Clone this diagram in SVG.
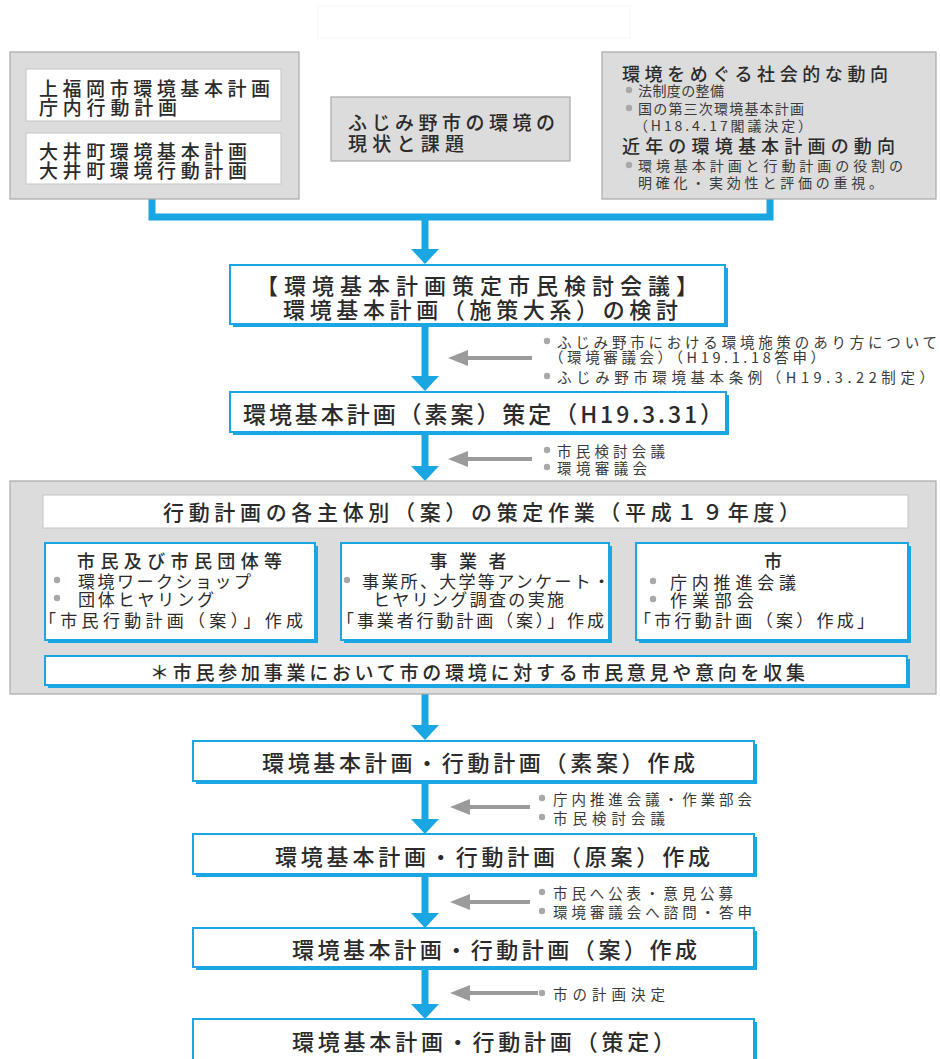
<svg xmlns="http://www.w3.org/2000/svg" width="940" height="1059" viewBox="0 0 940 1059">
  <defs>
    <style>
      text { font-family: "Noto Sans CJK JP", "Noto Sans", sans-serif; fill: #2b2b2b; dominant-baseline: central; }
      .t18 { font-size: 19px; font-weight: 500; }
      .t17 { font-size: 18px; font-weight: 500; }
      .t16 { font-size: 17px; }
      .main { font-size: 22px; font-weight: 500; }
      .note { font-size: 14.5px; fill: #3a3a3a; }
      .grayBox { fill: #dcdcdc; stroke: #a9a9a9; stroke-width: 1.2; }
      .whiteBox { fill: #ffffff; stroke: #c4c4c4; stroke-width: 1; }
      .node { fill: #ffffff; stroke: #19a6e2; stroke-width: 2; }
      .shadow { fill: #19a6e2; }
      .dot { fill: #a8a8a8; }
      .flow { fill: none; stroke: #19a6e2; stroke-width: 7; }
      .feed { fill: none; stroke: #9b9b9b; stroke-width: 4; }
    </style>
    <marker id="blueHead" markerUnits="userSpaceOnUse" markerWidth="15" markerHeight="28" viewBox="0 0 15 28" refX="0" refY="14" orient="auto">
      <path d="M0,0 L15,14 L0,28 Z" fill="#19a6e2"/>
    </marker>
    <marker id="grayHead" markerUnits="userSpaceOnUse" markerWidth="20" markerHeight="16" viewBox="0 0 20 16" refX="0" refY="8" orient="auto">
      <path d="M0,0 L20,8 L0,16 Z" fill="#9b9b9b"/>
    </marker>
  </defs>

  <rect width="940" height="1059" fill="#ffffff"/>

  <!-- faint header frame -->
  <rect x="318" y="6" width="312" height="32" fill="none" stroke="#f6f6f6" stroke-width="1"/>

  <!-- connectors -->
  <g id="connectors">
    <path class="flow" d="M152,199 V217 H770 V199"/>
    <path class="flow" d="M425,217 V249" marker-end="url(#blueHead)"/>
    <path class="flow" d="M425,327 V376" marker-end="url(#blueHead)"/>
    <path class="flow" d="M425,434 V466" marker-end="url(#blueHead)"/>
    <path class="flow" d="M425,694 V725" marker-end="url(#blueHead)"/>
    <path class="flow" d="M425,783 V819" marker-end="url(#blueHead)"/>
    <path class="flow" d="M425,876 V913" marker-end="url(#blueHead)"/>
    <path class="flow" d="M425,969 V1004" marker-end="url(#blueHead)"/>

    <path class="feed" d="M532,358 H468" marker-end="url(#grayHead)"/>
    <path class="feed" d="M532,459 H468" marker-end="url(#grayHead)"/>
    <path class="feed" d="M530,807 H470" marker-end="url(#grayHead)"/>
    <path class="feed" d="M530,902 H470" marker-end="url(#grayHead)"/>
    <path class="feed" d="M538,993 H470" marker-end="url(#grayHead)"/>
  </g>

  <!-- input: existing plans -->
  <g id="existing-plans">
    <rect class="grayBox" x="10" y="52" width="289" height="147"/>
    <rect class="whiteBox" x="26" y="69" width="255" height="52"/>
    <rect class="whiteBox" x="26" y="133" width="255" height="51"/>
    <text class="t18" x="39" y="87" textLength="231" lengthAdjust="spacing">上福岡市環境基本計画</text>
    <text class="t18" x="39" y="106" textLength="138" lengthAdjust="spacing">庁内行動計画</text>
    <text class="t18" x="39" y="150" textLength="208" lengthAdjust="spacing">大井町環境基本計画</text>
    <text class="t18" x="39" y="169" textLength="208" lengthAdjust="spacing">大井町環境行動計画</text>
  </g>

  <!-- input: local situation -->
  <g id="local-situation">
    <rect class="grayBox" x="331" y="97" width="239" height="64"/>
    <text class="t18" x="348" y="121" textLength="207" lengthAdjust="spacing">ふじみ野市の環境の</text>
    <text class="t18" x="348" y="142" textLength="116" lengthAdjust="spacing">現状と課題</text>
  </g>

  <!-- input: social trends -->
  <g id="social-trends">
    <rect class="grayBox" x="602" y="52" width="334" height="147"/>
    <text class="t17" x="622" y="73" textLength="266" lengthAdjust="spacing">環境をめぐる社会的な動向</text>
    <circle class="dot" cx="629" cy="90" r="3.2"/>
    <text class="note" x="638" y="90" textLength="86" lengthAdjust="spacing" style="font-size:14px">法制度の整備</text>
    <circle class="dot" cx="629" cy="108" r="3.2"/>
    <text class="note" x="638" y="108" textLength="166" lengthAdjust="spacing" style="font-size:14px">国の第三次環境基本計画</text>
    <text class="note" x="634" y="125" textLength="178" lengthAdjust="spacing" style="font-size:14px">（H18.4.17閣議決定）</text>
    <text class="t17" x="622" y="145" textLength="273" lengthAdjust="spacing">近年の環境基本計画の動向</text>
    <circle class="dot" cx="629" cy="165" r="3.2"/>
    <text class="note" x="638" y="165" textLength="265" lengthAdjust="spacing" style="font-size:14px">環境基本計画と行動計画の役割の</text>
    <text class="note" x="638" y="182" textLength="245" lengthAdjust="spacing" style="font-size:14px">明確化・実効性と評価の重視。</text>
  </g>

  <!-- citizens' review meeting -->
  <g id="review-meeting">
    <rect class="shadow" x="233" y="268" width="495" height="59"/>
    <rect class="node" x="230" y="265" width="495" height="59"/>
    <text class="main" x="256" y="284" textLength="442" lengthAdjust="spacing">【環境基本計画策定市民検討会議】</text>
    <text class="main" x="283" y="308" textLength="395" lengthAdjust="spacing">環境基本計画（施策大系）の検討</text>
  </g>

  <g id="note-1">
    <circle class="dot" cx="547" cy="341" r="3.2"/>
    <text class="note" x="557" y="341" textLength="380" lengthAdjust="spacing">ふじみ野市における環境施策のあり方について</text>
    <text class="note" x="549" y="356" textLength="276" lengthAdjust="spacing">（環境審議会）（H19.1.18答申）</text>
    <circle class="dot" cx="547" cy="376" r="3.2"/>
    <text class="note" x="557" y="376" textLength="377" lengthAdjust="spacing">ふじみ野市環境基本条例（H19.3.22制定）</text>
  </g>

  <!-- draft basic plan -->
  <g id="basic-draft">
    <rect class="shadow" x="233" y="395" width="496" height="40"/>
    <rect class="node" x="230" y="392" width="496" height="40"/>
    <text class="main" x="243" y="413" textLength="480" lengthAdjust="spacing" style="font-size:23px">環境基本計画（素案）策定（H19.3.31）</text>
  </g>

  <g id="note-2">
    <circle class="dot" cx="547" cy="450" r="3.2"/>
    <text class="note" x="557" y="450" textLength="108" lengthAdjust="spacing">市民検討会議</text>
    <circle class="dot" cx="547" cy="467" r="3.2"/>
    <text class="note" x="557" y="467" textLength="90" lengthAdjust="spacing">環境審議会</text>
  </g>

  <!-- action plan work by each actor -->
  <g id="action-work">
    <rect class="grayBox" x="10" y="481" width="926" height="213"/>
    <rect class="whiteBox" x="43" y="495" width="865" height="33"/>
    <text class="main" x="163" y="511" textLength="637" lengthAdjust="spacing" style="font-size:21px">行動計画の各主体別（案）の策定作業（平成１９年度）</text>
  </g>

  <g id="citizens">
    <rect class="shadow" x="48" y="546" width="270" height="97"/>
    <rect class="node" x="45" y="543" width="270" height="97"/>
    <text class="t17" x="77" y="560" textLength="205" lengthAdjust="spacing">市民及び市民団体等</text>
    <circle class="dot" cx="57" cy="580" r="3.2"/>
    <text class="t16" x="78" y="580" textLength="173" lengthAdjust="spacing">環境ワークショップ</text>
    <circle class="dot" cx="57" cy="598" r="3.2"/>
    <text class="t16" x="78" y="598" textLength="136" lengthAdjust="spacing">団体ヒヤリング</text>
    <text class="t16" x="39" y="619" textLength="264" lengthAdjust="spacing">「市民行動計画（案）」作成</text>
  </g>

  <g id="businesses">
    <rect class="shadow" x="344" y="546" width="268" height="97"/>
    <rect class="node" x="341" y="543" width="268" height="97"/>
    <text class="t17" x="468" y="560" text-anchor="middle" textLength="77" lengthAdjust="spacing">事業者</text>
    <circle class="dot" cx="347" cy="580" r="3.2"/>
    <text class="t16" x="362" y="580" textLength="248" lengthAdjust="spacing">事業所、大学等アンケート・</text>
    <text class="t16" x="373" y="598" textLength="191" lengthAdjust="spacing">ヒヤリング調査の実施</text>
    <text class="t16" x="337" y="619" textLength="267" lengthAdjust="spacing">「事業者行動計画（案）」作成</text>
  </g>

  <g id="city">
    <rect class="shadow" x="639" y="546" width="272" height="97"/>
    <rect class="node" x="636" y="543" width="272" height="97"/>
    <text class="t17" x="773" y="560" text-anchor="middle">市</text>
    <circle class="dot" cx="653" cy="581" r="3.2"/>
    <text class="t16" x="670" y="581" textLength="126" lengthAdjust="spacing">庁内推進会議</text>
    <circle class="dot" cx="653" cy="599" r="3.2"/>
    <text class="t16" x="670" y="599" textLength="84" lengthAdjust="spacing">作業部会</text>
    <text class="t16" x="634" y="619" textLength="240" lengthAdjust="spacing">「市行動計画（案）作成」</text>
  </g>

  <g id="opinions">
    <rect class="shadow" x="48" y="659" width="862" height="29"/>
    <rect class="node" x="45" y="656" width="862" height="29"/>
    <text class="t18" x="150" y="671" textLength="655" lengthAdjust="spacing">＊市民参加事業において市の環境に対する市民意見や意向を収集</text>
  </g>

  <!-- plan drafting stages -->
  <g id="stage-soan">
    <rect class="shadow" x="196" y="744" width="561" height="40"/>
    <rect class="node" x="193" y="741" width="561" height="40"/>
    <text class="main" x="262" y="761" textLength="433" lengthAdjust="spacing">環境基本計画・行動計画（素案）作成</text>
  </g>

  <g id="note-3">
    <circle class="dot" cx="542" cy="798" r="3.2"/>
    <text class="note" x="553" y="798" textLength="199" lengthAdjust="spacing">庁内推進会議・作業部会</text>
    <circle class="dot" cx="542" cy="817" r="3.2"/>
    <text class="note" x="553" y="817" textLength="112" lengthAdjust="spacing">市民検討会議</text>
  </g>

  <g id="stage-genan">
    <rect class="shadow" x="196" y="837" width="561" height="40"/>
    <rect class="node" x="193" y="834" width="561" height="40"/>
    <text class="main" x="275" y="855" textLength="435" lengthAdjust="spacing">環境基本計画・行動計画（原案）作成</text>
  </g>

  <g id="note-4">
    <circle class="dot" cx="542" cy="892" r="3.2"/>
    <text class="note" x="553" y="892" textLength="180" lengthAdjust="spacing">市民へ公表・意見公募</text>
    <circle class="dot" cx="542" cy="911" r="3.2"/>
    <text class="note" x="553" y="911" textLength="199" lengthAdjust="spacing">環境審議会へ諮問・答申</text>
  </g>

  <g id="stage-an">
    <rect class="shadow" x="196" y="931" width="561" height="39"/>
    <rect class="node" x="193" y="928" width="561" height="39"/>
    <text class="main" x="292" y="948" textLength="405" lengthAdjust="spacing">環境基本計画・行動計画（案）作成</text>
  </g>

  <g id="note-5">
    <circle class="dot" cx="542" cy="993" r="3.2"/>
    <text class="note" x="553" y="993" textLength="112" lengthAdjust="spacing">市の計画決定</text>
  </g>

  <g id="stage-final">
    <rect class="shadow" x="196" y="1022" width="561" height="50"/>
    <rect class="node" x="193" y="1019" width="561" height="50"/>
    <text class="main" x="292" y="1040" textLength="383" lengthAdjust="spacing">環境基本計画・行動計画（策定）</text>
  </g>
</svg>
